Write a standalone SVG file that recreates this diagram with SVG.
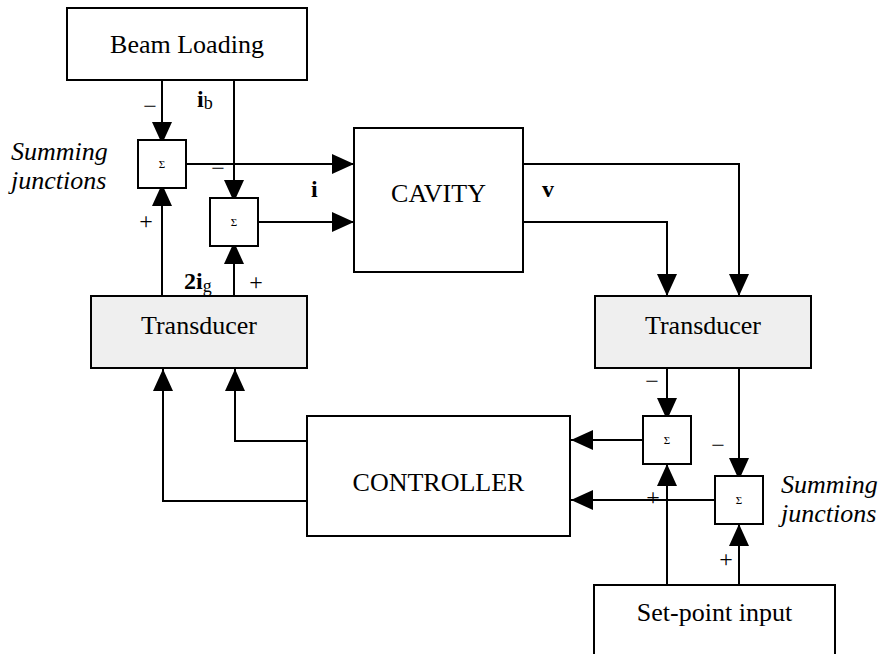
<svg xmlns="http://www.w3.org/2000/svg" width="883" height="654" viewBox="0 0 883 654">
  <style>
    .box { fill: #ffffff; stroke: #000; stroke-width: 2; }
    .tbox { fill: #efefef; stroke: #000; stroke-width: 2; }
    .sum { fill: #ffffff; stroke: #000; stroke-width: 2; }
    .wire { fill: none; stroke: #000; stroke-width: 2; marker-end: url(#arr); }
    text { font-family: "Liberation Serif", Tinos, "Times New Roman", "DejaVu Serif", serif; fill: #000; }
    .label { font-size: 26px; text-anchor: middle; }
    .note { font-size: 26px; font-style: italic; }
    .sym { font-size: 24px; font-weight: bold; }
    .sub { font-weight: normal; font-size: 18px; }
    .sign { font-size: 24px; text-anchor: middle; }
    .sigma { font-size: 11px; text-anchor: middle; }
  </style>
  <defs>
    <marker id="arr" markerUnits="userSpaceOnUse" markerWidth="22" markerHeight="20" refX="22" refY="10" orient="auto">
      <path d="M0,0 L22,10 L0,20 z" fill="#000"/>
    </marker>
  </defs>

  <rect width="883" height="654" fill="#ffffff"/>

  <!-- connectors -->
  <g id="connectors">
    <path class="wire" d="M162,80 V144"/>
    <path class="wire" d="M234,80 V202"/>
    <path class="wire" d="M186,164 H354"/>
    <path class="wire" d="M258,222 H354"/>
    <path class="wire" d="M523,164 H739 V296"/>
    <path class="wire" d="M523,222 H667 V296"/>
    <path class="wire" d="M162,296 V184"/>
    <path class="wire" d="M234,296 V242"/>
    <path class="wire" d="M307,441 H235 V369"/>
    <path class="wire" d="M307,501 H163 V369"/>
    <path class="wire" d="M667,368 V420"/>
    <path class="wire" d="M739,368 V480"/>
    <path class="wire" d="M642,440 H571"/>
    <path class="wire" d="M714,500 H571"/>
    <path class="wire" d="M667,585 V464"/>
    <path class="wire" d="M739,598 V524"/>
  </g>

  <g id="beam-loading">
    <rect class="box" x="67" y="8" width="240" height="72"/>
    <text class="label" x="187" y="53">Beam Loading</text>
  </g>

  <g id="cavity">
    <rect class="box" x="354" y="128" width="169" height="144"/>
    <text class="label" x="438.5" y="202">CAVITY</text>
  </g>

  <g id="transducer-left">
    <rect class="tbox" x="91" y="296" width="216" height="72"/>
    <text class="label" x="199" y="334">Transducer</text>
  </g>

  <g id="transducer-right">
    <rect class="tbox" x="595" y="296" width="216" height="72"/>
    <text class="label" x="703" y="334">Transducer</text>
  </g>

  <g id="controller">
    <rect class="box" x="307" y="416" width="263" height="120"/>
    <text class="label" x="438.5" y="491">CONTROLLER</text>
  </g>

  <g id="set-point">
    <rect class="box" x="594" y="585" width="241" height="100"/>
    <text class="label" x="714.5" y="621">Set-point input</text>
  </g>

  <g id="sum-1">
    <rect class="sum" x="138" y="140" width="48" height="48"/>
    <text class="sigma" x="162" y="168">Σ</text>
  </g>
  <g id="sum-2">
    <rect class="sum" x="210" y="198" width="48" height="48"/>
    <text class="sigma" x="234" y="226">Σ</text>
  </g>
  <g id="sum-3">
    <rect class="sum" x="643" y="416" width="48" height="48"/>
    <text class="sigma" x="667" y="444">Σ</text>
  </g>
  <g id="sum-4">
    <rect class="sum" x="715" y="476" width="48" height="48"/>
    <text class="sigma" x="739" y="504">Σ</text>
  </g>

  <!-- signal names -->
  <g id="signals">
    <text class="sym" x="197" y="107">i<tspan class="sub" dy="2">b</tspan></text>
    <text class="sym" x="311" y="197">i</text>
    <text class="sym" x="542" y="197">v</text>
    <text class="sym" x="184" y="289">2i<tspan class="sub" dy="3">g</tspan></text>
  </g>

  <!-- summing signs -->
  <g id="signs">
    <text class="sign" x="150" y="114">−</text>
    <text class="sign" x="218" y="176">−</text>
    <text class="sign" x="146" y="229">+</text>
    <text class="sign" x="256" y="290">+</text>
    <text class="sign" x="652" y="389">−</text>
    <text class="sign" x="718" y="453">−</text>
    <text class="sign" x="653" y="505">+</text>
    <text class="sign" x="726" y="567">+</text>
  </g>

  <g id="notes">
    <text class="note" x="11" y="160">Summing</text>
    <text class="note" x="11" y="189">junctions</text>
    <text class="note" x="781" y="493">Summing</text>
    <text class="note" x="781" y="522">junctions</text>
  </g>
</svg>
